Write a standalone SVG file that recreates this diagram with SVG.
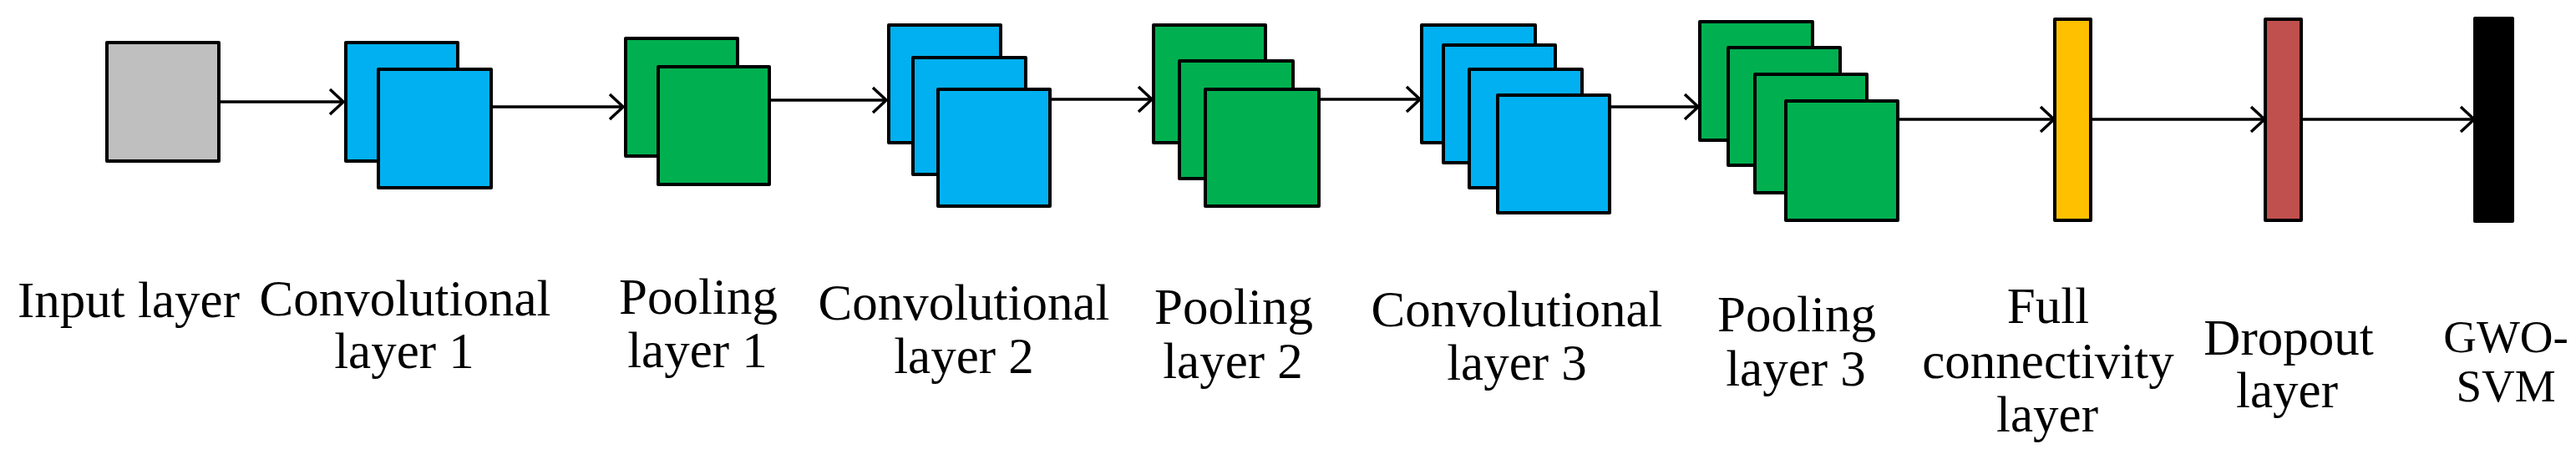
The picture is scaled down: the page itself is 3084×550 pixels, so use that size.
<svg xmlns="http://www.w3.org/2000/svg" width="3084" height="550" viewBox="0 0 3084 550">
<style>
  .box{stroke:#000;stroke-width:4;stroke-linejoin:round}
  .gray{fill:#BFBFBF}
  .blue{fill:#00B0F0}
  .green{fill:#00B050}
  .yellow{fill:#FFC000}
  .red{fill:#C0504D}
  .black{fill:#000}
  .lbl{font-family:"Liberation Serif","Times New Roman",serif;font-size:61px;fill:#000;text-anchor:middle}
  .sm{font-size:55px}
  .conn{stroke:#000;stroke-width:3.5;fill:none}
</style>
<defs>
  <marker id="arr" markerUnits="userSpaceOnUse" markerWidth="22" markerHeight="36" refX="18" refY="18" orient="auto">
    <path d="M2,3 L18,18 L2,33" fill="none" stroke="#000" stroke-width="3.5"/>
  </marker>
</defs>
<rect width="3084" height="550" fill="#fff"/>
<g id="connectors">
  <line class="conn" x1="264" y1="122" x2="411" y2="122" marker-end="url(#arr)"/>
  <line class="conn" x1="590" y1="128" x2="746" y2="128" marker-end="url(#arr)"/>
  <line class="conn" x1="923" y1="120" x2="1061" y2="120" marker-end="url(#arr)"/>
  <line class="conn" x1="1259" y1="119" x2="1379" y2="119" marker-end="url(#arr)"/>
  <line class="conn" x1="1581" y1="119" x2="1700" y2="119" marker-end="url(#arr)"/>
  <line class="conn" x1="1929" y1="128" x2="2033" y2="128" marker-end="url(#arr)"/>
  <line class="conn" x1="2274" y1="143" x2="2459" y2="143" marker-end="url(#arr)"/>
  <line class="conn" x1="2505" y1="143" x2="2711" y2="143" marker-end="url(#arr)"/>
  <line class="conn" x1="2757" y1="143" x2="2962" y2="143" marker-end="url(#arr)"/>
</g>
<g id="input-layer">
  <rect class="box gray" x="128" y="51" width="134" height="142"/>
  <text class="lbl" x="154" y="380">Input layer</text>
</g>
<g id="conv-layer-1">
  <rect class="box blue" x="414" y="51" width="134" height="142"/>
  <rect class="box blue" x="453" y="83" width="135" height="142"/>
  <text class="lbl" x="485" y="378">Convolutional</text>
  <text class="lbl" x="484" y="441">layer 1</text>
</g>
<g id="pool-layer-1">
  <rect class="box green" x="749" y="46" width="134" height="141"/>
  <rect class="box green" x="788" y="80" width="133" height="141"/>
  <text class="lbl" x="836" y="376">Pooling</text>
  <text class="lbl" x="835" y="440">layer 1</text>
</g>
<g id="conv-layer-2">
  <rect class="box blue" x="1064" y="30" width="134" height="141"/>
  <rect class="box blue" x="1093" y="69" width="135" height="140"/>
  <rect class="box blue" x="1123" y="107" width="134" height="140"/>
  <text class="lbl" x="1154" y="383">Convolutional</text>
  <text class="lbl" x="1154" y="447">layer 2</text>
</g>
<g id="pool-layer-2">
  <rect class="box green" x="1381" y="30" width="134" height="141"/>
  <rect class="box green" x="1412" y="73" width="136" height="141"/>
  <rect class="box green" x="1443" y="107" width="136" height="140"/>
  <text class="lbl" x="1477" y="388">Pooling</text>
  <text class="lbl" x="1476" y="453">layer 2</text>
</g>
<g id="conv-layer-3">
  <rect class="box blue" x="1702" y="30" width="136" height="141"/>
  <rect class="box blue" x="1728" y="54" width="134" height="141"/>
  <rect class="box blue" x="1759" y="83" width="135" height="142"/>
  <rect class="box blue" x="1793" y="114" width="134" height="141"/>
  <text class="lbl" x="1816" y="391">Convolutional</text>
  <text class="lbl" x="1816" y="455">layer 3</text>
</g>
<g id="pool-layer-3">
  <rect class="box green" x="2035" y="26" width="135" height="142"/>
  <rect class="box green" x="2069" y="57" width="134" height="141"/>
  <rect class="box green" x="2101" y="89" width="134" height="142"/>
  <rect class="box green" x="2138" y="121" width="134" height="143"/>
  <text class="lbl" x="2151" y="397">Pooling</text>
  <text class="lbl" x="2150" y="462">layer 3</text>
</g>
<g id="full-connectivity-layer">
  <rect class="box yellow" x="2460" y="23" width="43" height="241"/>
  <text class="lbl" x="2452" y="387">Full</text>
  <text class="lbl" x="2452" y="453">connectivity</text>
  <text class="lbl" x="2451" y="517">layer</text>
</g>
<g id="dropout-layer">
  <rect class="box red" x="2712" y="23" width="43" height="241"/>
  <text class="lbl" x="2740" y="425">Dropout</text>
  <text class="lbl" x="2738" y="488">layer</text>
</g>
<g id="gwo-svm">
  <rect class="box black" x="2963" y="22" width="45" height="243"/>
  <text class="lbl sm" x="3000" y="422">GWO-</text>
  <text class="lbl sm" x="3000" y="481">SVM</text>
</g>
</svg>
